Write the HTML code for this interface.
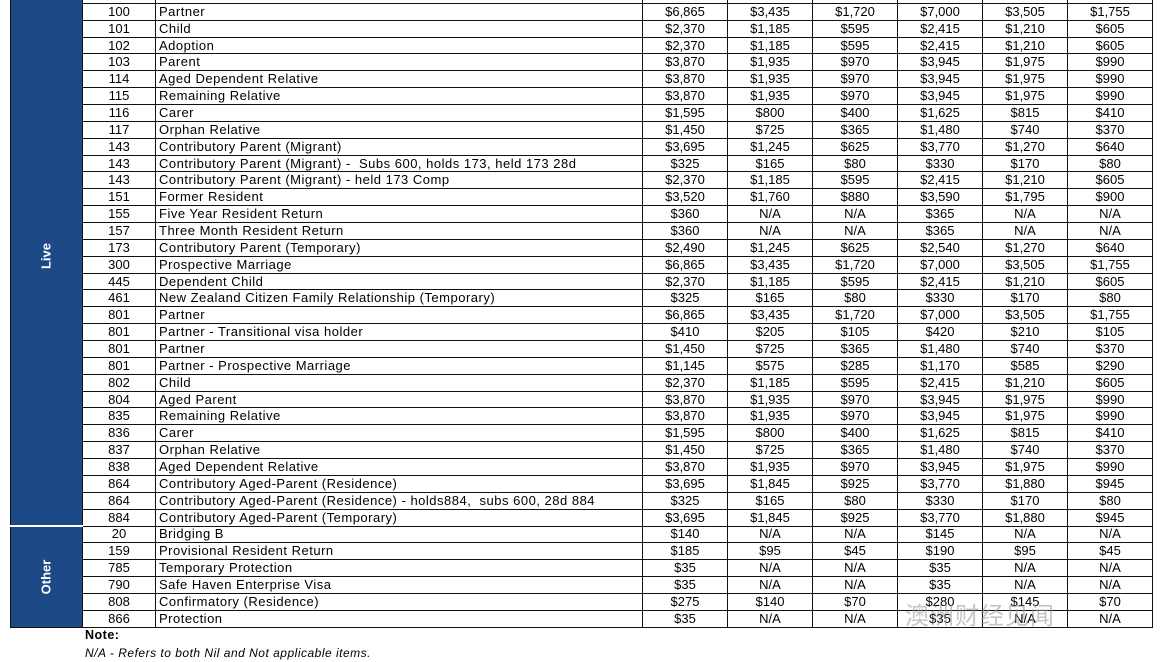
<!DOCTYPE html>
<html><head><meta charset="utf-8"><style>
body{margin:0;width:1167px;height:662px;background:#fff;position:relative;overflow:hidden;font-family:"Liberation Sans",sans-serif;}
table{position:absolute;left:10px;top:-14px;border-collapse:collapse;table-layout:fixed;}
td{border:1.3px solid #111;height:15.86px;padding:0;font-size:13px;line-height:14px;color:#000;white-space:nowrap;overflow:hidden;}
td.c{text-align:center}
td.d{padding-left:3px;letter-spacing:0.5px}
td.b{background:#1d4a86;color:#fff;font-weight:bold;border:1.3px solid #111;border-bottom:2px solid #fff;}
td.b div{transform:rotate(-90deg);font-size:13px;text-align:center;}
.note{position:absolute;left:85px;top:628px;font-size:12.5px;font-weight:bold;letter-spacing:0.5px}
.na{position:absolute;left:85px;top:646px;font-size:12px;font-style:italic;letter-spacing:0.5px}
.wm{position:absolute;left:905px;top:596px;font-family:"Noto Sans CJK SC",sans-serif;font-size:24px;color:rgba(150,150,150,0.55);letter-spacing:1px}
</style></head><body>
<table>
<colgroup><col style="width:72px"><col style="width:73px"><col style="width:487px"><col style="width:85px"><col style="width:85px"><col style="width:85px"><col style="width:85px"><col style="width:85px"><col style="width:85px"></colgroup>
<tr><td class="b" rowspan="32" style="border-bottom:2px solid #fff"><div>Live</div></td><td class="c"></td><td class="d"></td><td></td><td></td><td></td><td></td><td></td><td></td></tr>
<tr><td class="c">100</td><td class="d">Partner</td><td class="c">$6,865</td><td class="c">$3,435</td><td class="c">$1,720</td><td class="c">$7,000</td><td class="c">$3,505</td><td class="c">$1,755</td></tr>
<tr><td class="c">101</td><td class="d">Child</td><td class="c">$2,370</td><td class="c">$1,185</td><td class="c">$595</td><td class="c">$2,415</td><td class="c">$1,210</td><td class="c">$605</td></tr>
<tr><td class="c">102</td><td class="d">Adoption</td><td class="c">$2,370</td><td class="c">$1,185</td><td class="c">$595</td><td class="c">$2,415</td><td class="c">$1,210</td><td class="c">$605</td></tr>
<tr><td class="c">103</td><td class="d">Parent</td><td class="c">$3,870</td><td class="c">$1,935</td><td class="c">$970</td><td class="c">$3,945</td><td class="c">$1,975</td><td class="c">$990</td></tr>
<tr><td class="c">114</td><td class="d">Aged Dependent Relative</td><td class="c">$3,870</td><td class="c">$1,935</td><td class="c">$970</td><td class="c">$3,945</td><td class="c">$1,975</td><td class="c">$990</td></tr>
<tr><td class="c">115</td><td class="d">Remaining Relative</td><td class="c">$3,870</td><td class="c">$1,935</td><td class="c">$970</td><td class="c">$3,945</td><td class="c">$1,975</td><td class="c">$990</td></tr>
<tr><td class="c">116</td><td class="d">Carer</td><td class="c">$1,595</td><td class="c">$800</td><td class="c">$400</td><td class="c">$1,625</td><td class="c">$815</td><td class="c">$410</td></tr>
<tr><td class="c">117</td><td class="d">Orphan Relative</td><td class="c">$1,450</td><td class="c">$725</td><td class="c">$365</td><td class="c">$1,480</td><td class="c">$740</td><td class="c">$370</td></tr>
<tr><td class="c">143</td><td class="d">Contributory Parent (Migrant)</td><td class="c">$3,695</td><td class="c">$1,245</td><td class="c">$625</td><td class="c">$3,770</td><td class="c">$1,270</td><td class="c">$640</td></tr>
<tr><td class="c">143</td><td class="d">Contributory Parent (Migrant) -&nbsp; Subs 600, holds 173, held 173 28d</td><td class="c">$325</td><td class="c">$165</td><td class="c">$80</td><td class="c">$330</td><td class="c">$170</td><td class="c">$80</td></tr>
<tr><td class="c">143</td><td class="d">Contributory Parent (Migrant) - held 173 Comp</td><td class="c">$2,370</td><td class="c">$1,185</td><td class="c">$595</td><td class="c">$2,415</td><td class="c">$1,210</td><td class="c">$605</td></tr>
<tr><td class="c">151</td><td class="d">Former Resident</td><td class="c">$3,520</td><td class="c">$1,760</td><td class="c">$880</td><td class="c">$3,590</td><td class="c">$1,795</td><td class="c">$900</td></tr>
<tr><td class="c">155</td><td class="d">Five Year Resident Return</td><td class="c">$360</td><td class="c">N/A</td><td class="c">N/A</td><td class="c">$365</td><td class="c">N/A</td><td class="c">N/A</td></tr>
<tr><td class="c">157</td><td class="d">Three Month Resident Return</td><td class="c">$360</td><td class="c">N/A</td><td class="c">N/A</td><td class="c">$365</td><td class="c">N/A</td><td class="c">N/A</td></tr>
<tr><td class="c">173</td><td class="d">Contributory Parent (Temporary)</td><td class="c">$2,490</td><td class="c">$1,245</td><td class="c">$625</td><td class="c">$2,540</td><td class="c">$1,270</td><td class="c">$640</td></tr>
<tr><td class="c">300</td><td class="d">Prospective Marriage</td><td class="c">$6,865</td><td class="c">$3,435</td><td class="c">$1,720</td><td class="c">$7,000</td><td class="c">$3,505</td><td class="c">$1,755</td></tr>
<tr><td class="c">445</td><td class="d">Dependent Child</td><td class="c">$2,370</td><td class="c">$1,185</td><td class="c">$595</td><td class="c">$2,415</td><td class="c">$1,210</td><td class="c">$605</td></tr>
<tr><td class="c">461</td><td class="d">New Zealand Citizen Family Relationship (Temporary)</td><td class="c">$325</td><td class="c">$165</td><td class="c">$80</td><td class="c">$330</td><td class="c">$170</td><td class="c">$80</td></tr>
<tr><td class="c">801</td><td class="d">Partner</td><td class="c">$6,865</td><td class="c">$3,435</td><td class="c">$1,720</td><td class="c">$7,000</td><td class="c">$3,505</td><td class="c">$1,755</td></tr>
<tr><td class="c">801</td><td class="d">Partner - Transitional visa holder</td><td class="c">$410</td><td class="c">$205</td><td class="c">$105</td><td class="c">$420</td><td class="c">$210</td><td class="c">$105</td></tr>
<tr><td class="c">801</td><td class="d">Partner</td><td class="c">$1,450</td><td class="c">$725</td><td class="c">$365</td><td class="c">$1,480</td><td class="c">$740</td><td class="c">$370</td></tr>
<tr><td class="c">801</td><td class="d">Partner - Prospective Marriage</td><td class="c">$1,145</td><td class="c">$575</td><td class="c">$285</td><td class="c">$1,170</td><td class="c">$585</td><td class="c">$290</td></tr>
<tr><td class="c">802</td><td class="d">Child</td><td class="c">$2,370</td><td class="c">$1,185</td><td class="c">$595</td><td class="c">$2,415</td><td class="c">$1,210</td><td class="c">$605</td></tr>
<tr><td class="c">804</td><td class="d">Aged Parent</td><td class="c">$3,870</td><td class="c">$1,935</td><td class="c">$970</td><td class="c">$3,945</td><td class="c">$1,975</td><td class="c">$990</td></tr>
<tr><td class="c">835</td><td class="d">Remaining Relative</td><td class="c">$3,870</td><td class="c">$1,935</td><td class="c">$970</td><td class="c">$3,945</td><td class="c">$1,975</td><td class="c">$990</td></tr>
<tr><td class="c">836</td><td class="d">Carer</td><td class="c">$1,595</td><td class="c">$800</td><td class="c">$400</td><td class="c">$1,625</td><td class="c">$815</td><td class="c">$410</td></tr>
<tr><td class="c">837</td><td class="d">Orphan Relative</td><td class="c">$1,450</td><td class="c">$725</td><td class="c">$365</td><td class="c">$1,480</td><td class="c">$740</td><td class="c">$370</td></tr>
<tr><td class="c">838</td><td class="d">Aged Dependent Relative</td><td class="c">$3,870</td><td class="c">$1,935</td><td class="c">$970</td><td class="c">$3,945</td><td class="c">$1,975</td><td class="c">$990</td></tr>
<tr><td class="c">864</td><td class="d">Contributory Aged-Parent (Residence)</td><td class="c">$3,695</td><td class="c">$1,845</td><td class="c">$925</td><td class="c">$3,770</td><td class="c">$1,880</td><td class="c">$945</td></tr>
<tr><td class="c">864</td><td class="d">Contributory Aged-Parent (Residence) - holds884,&nbsp; subs 600, 28d 884</td><td class="c">$325</td><td class="c">$165</td><td class="c">$80</td><td class="c">$330</td><td class="c">$170</td><td class="c">$80</td></tr>
<tr><td class="c">884</td><td class="d">Contributory Aged-Parent (Temporary)</td><td class="c">$3,695</td><td class="c">$1,845</td><td class="c">$925</td><td class="c">$3,770</td><td class="c">$1,880</td><td class="c">$945</td></tr>
<tr><td class="b" rowspan="6" style="border-bottom:1.3px solid #111"><div>Other</div></td><td class="c">20</td><td class="d">Bridging B</td><td class="c">$140</td><td class="c">N/A</td><td class="c">N/A</td><td class="c">$145</td><td class="c">N/A</td><td class="c">N/A</td></tr>
<tr><td class="c">159</td><td class="d">Provisional Resident Return</td><td class="c">$185</td><td class="c">$95</td><td class="c">$45</td><td class="c">$190</td><td class="c">$95</td><td class="c">$45</td></tr>
<tr><td class="c">785</td><td class="d">Temporary Protection</td><td class="c">$35</td><td class="c">N/A</td><td class="c">N/A</td><td class="c">$35</td><td class="c">N/A</td><td class="c">N/A</td></tr>
<tr><td class="c">790</td><td class="d">Safe Haven Enterprise Visa</td><td class="c">$35</td><td class="c">N/A</td><td class="c">N/A</td><td class="c">$35</td><td class="c">N/A</td><td class="c">N/A</td></tr>
<tr><td class="c">808</td><td class="d">Confirmatory (Residence)</td><td class="c">$275</td><td class="c">$140</td><td class="c">$70</td><td class="c">$280</td><td class="c">$145</td><td class="c">$70</td></tr>
<tr><td class="c">866</td><td class="d">Protection</td><td class="c">$35</td><td class="c">N/A</td><td class="c">N/A</td><td class="c">$35</td><td class="c">N/A</td><td class="c">N/A</td></tr>
</table>
<div class="note">Note:</div>
<div class="na">N/A - Refers to both Nil and Not applicable items.</div>
<div class="wm">澳洲财经见闻</div>
</body></html>
